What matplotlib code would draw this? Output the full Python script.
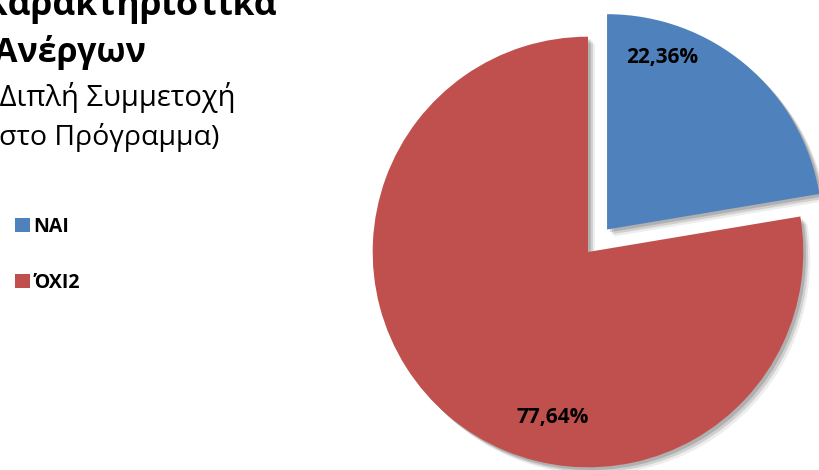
import matplotlib
matplotlib.use('Agg')
import matplotlib.pyplot as plt
from matplotlib.patches import Patch
import matplotlib.patheffects as pe

# ---- data ----
categories = ['NAI', 'ΌΧΙ2']
shares = [22.36, 77.64]
title_lines = ['Χαρακτηριστικά', 'Ανέργων']
subtitle_lines = ['(Διπλή Συμμετοχή', 'στο Πρόγραμμα)']

# ---- style / layout ----
colors = ['#4F81BD', '#C0504D']
W, H, DPI = 819, 470, 100
plt.rcParams['font.family'] = ['Open Sans', 'Liberation Sans', 'DejaVu Sans']

fig = plt.figure(figsize=(W / DPI, H / DPI), dpi=DPI)


def fx(x):
    return x / W


def fy(y):
    return 1 - y / H


R = 215.3          # pie radius in pixels
cx, cy = 588, 252  # pie centre in pixels

ax = fig.add_axes([0, 0, 1, 1])
shadow = [
    pe.SimplePatchShadow(offset=(2, -2), shadow_rgbFace='black', alpha=0.15),
    pe.SimplePatchShadow(offset=(3.5, -3.5), shadow_rgbFace='black', alpha=0.12),
    pe.SimplePatchShadow(offset=(5, -5), shadow_rgbFace='black', alpha=0.07),
    pe.Normal(),
]
wedges, _ = ax.pie(shares, colors=colors, startangle=90, counterclock=False,
                   explode=[0.137, 0], radius=1,
                   wedgeprops=dict(linewidth=0, path_effects=shadow))
ax.set_aspect('auto')
ax.set_xlim(-cx / R, (W - cx) / R)
ax.set_ylim(-(H - cy) / R, cy / R)
ax.axis('off')

# percentage labels
label_pos = [(662, 57), (553, 417)]
for val, (px, py) in zip(shares, label_pos):
    txt = f"{val:.2f}".replace('.', ',') + '%'
    fig.text(fx(px), fy(py), txt, ha='center', va='center',
             fontsize=15, fontweight='bold', color='black')

# title (clipped by the figure edge like the reference)
fig.text(fx(277), fy(15), title_lines[0], ha='right', va='baseline',
         fontsize=25.5, fontweight='bold')
fig.text(fx(146), fy(62), title_lines[1], ha='right', va='baseline',
         fontsize=24.5, fontweight='bold')
fig.text(fx(236), fy(106), subtitle_lines[0], ha='right', va='baseline',
         fontsize=21)
fig.text(fx(219), fy(145), subtitle_lines[1], ha='right', va='baseline',
         fontsize=20.5)

# legend
handles = [Patch(facecolor=c, edgecolor='none') for c in colors]
fig.legend(handles, categories, loc='upper left',
           bbox_to_anchor=(fx(1), fy(203)), frameon=False,
           prop=dict(size=14, weight='bold'),
           handlelength=0.78, handleheight=0.78, handletextpad=0.2,
           labelspacing=1.85, borderpad=0.2)

fig.savefig('out.png', dpi=DPI)
